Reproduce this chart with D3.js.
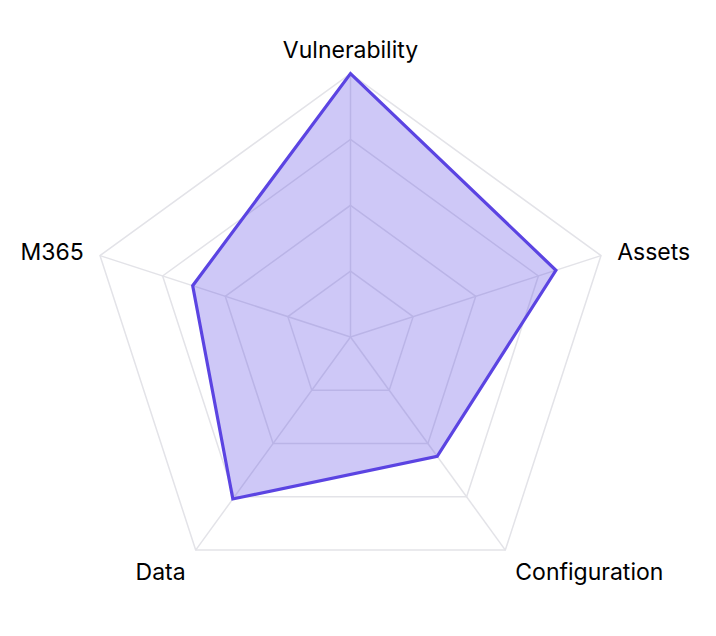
<!DOCTYPE html>
<html><head><meta charset="utf-8">
<script src="https://cdn.jsdelivr.net/npm/d3@7"></script>
<style>html,body{margin:0;padding:0;background:#fff;}svg{display:block;}</style>
</head><body>
<svg id="chart" width="716" height="636"></svg>
<script>
const categories = ["Vulnerability", "Assets", "Configuration", "Data", "M365"];
const values = [100, 82, 56, 76, 63];
const gridTicks = [25, 50, 75, 100];
const maxValue = 100;

const svg = d3.select("#chart");
const cx = 350.5, cy = 337, R = 263.4;
const r = d3.scaleLinear().domain([0, maxValue]).range([0, R]);
const angle = d3.scaleLinear().domain([0, categories.length]).range([0, 2 * Math.PI]);
const pt = (i, v) => [cx + r(v) * Math.sin(angle(i)), cy - r(v) * Math.cos(angle(i))];

const gridColor = "#e3e3e8";
const g = svg.append("g");
gridTicks.forEach(t => {
  g.append("polygon")
    .attr("points", categories.map((c, i) => pt(i, t).join(",")).join(" "))
    .attr("fill", "none").attr("stroke", gridColor).attr("stroke-width", 1.5);
});
categories.forEach((c, i) => {
  const [x, y] = pt(i, maxValue);
  g.append("line").attr("x1", cx).attr("y1", cy).attr("x2", x).attr("y2", y)
    .attr("stroke", gridColor).attr("stroke-width", 1.5);
});
const line = d3.lineRadial().angle((d, i) => angle(i)).radius(d => r(d)).curve(d3.curveLinearClosed);
svg.append("path").attr("transform", `translate(${cx},${cy})`)
  .attr("d", line(values))
  .attr("fill", "rgba(93,72,230,0.30)")
  .attr("stroke", "#5b44e2").attr("stroke-width", 3.2).attr("stroke-linejoin", "miter");

const LR = R + 17;
categories.forEach((c, i) => {
  const a = angle(i);
  const s = Math.sin(a), co = Math.cos(a);
  let x = cx + LR * s, y = cy - LR * co;
  let anchor = Math.abs(s) < 1e-6 ? "middle" : (s > 0 ? "start" : "end");
  let base = "middle";
  if (i === 0) { y = cy - R - 16; base = "alphabetic"; }
  else if (co < -0.5) { base = "hanging"; y = y - 1; }
  else { y = y + 3; }
  svg.append("text").attr("x", x).attr("y", y)
    .attr("text-anchor", anchor).attr("dominant-baseline", base)
    .attr("font-family", "Inter, sans-serif").attr("font-size", 23)
    .attr("fill", "#000").text(c);
});
</script>
</body></html>
